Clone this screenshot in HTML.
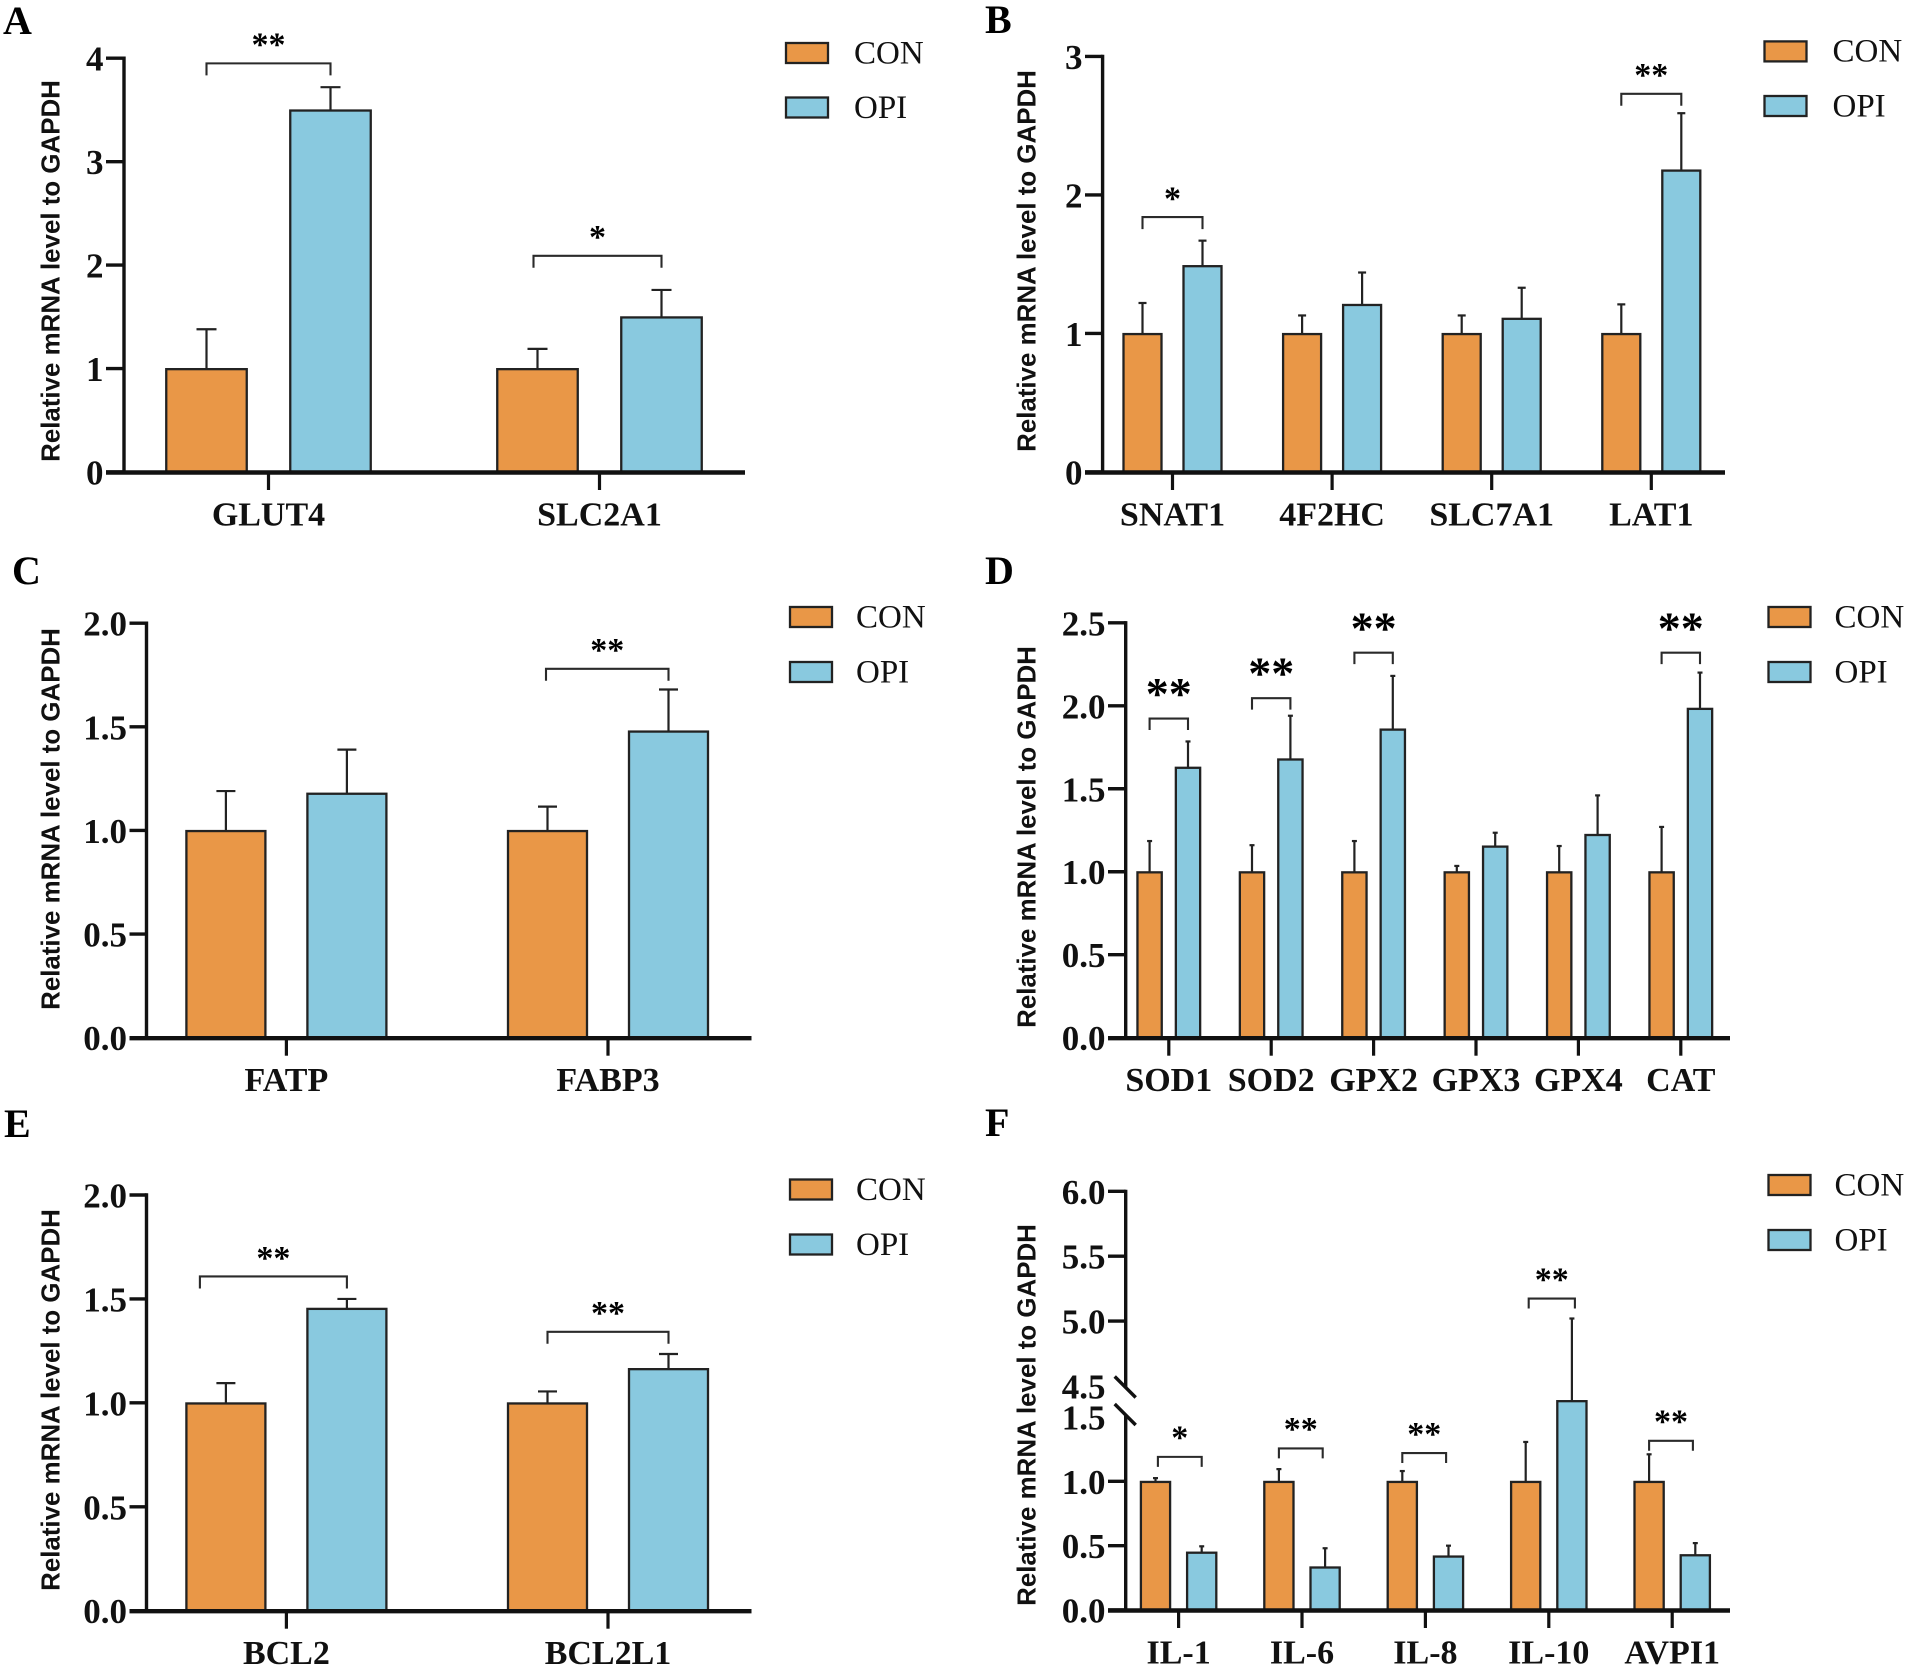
<!DOCTYPE html>
<html lang="en">
<head>
<meta charset="utf-8">
<title>Relative mRNA levels, CON vs OPI</title>
<style>
html,body{margin:0;padding:0;background:#fff;}
svg{display:block;filter:blur(0.35px);}
.tick{font:bold 35px "Liberation Serif",serif;fill:#111;}
.cat{font:bold 34px "Liberation Serif",serif;fill:#111;}
.leg{font:33px "Liberation Serif",serif;fill:#111;}
.ylab{font:bold 25.9px "Liberation Sans",sans-serif;fill:#111;}
.letter{font:bold 40px "Liberation Serif",serif;fill:#000;}
.star{font-family:"Liberation Serif",serif;font-weight:bold;fill:#000;}
</style>
</head>
<body>
<svg id="figure" xmlns="http://www.w3.org/2000/svg" width="1906" height="1668" viewBox="0 0 1906 1668"></svg>
<script>
// Panel A
const aCategories = ['GLUT4', 'SLC2A1'];
const aCon = [1, 1];
const aConErr = [0.38, 0.19];
const aOpi = [3.5, 1.5];
const aOpiErr = [0.22, 0.26];
const aSig = ['**', '*'];
const aBracket = [3.95, 2.09];
const aTicks = [0, 1, 2, 3, 4];
const aTickLabels = ['0', '1', '2', '3', '4'];

// Panel B
const bCategories = ['SNAT1', '4F2HC', 'SLC7A1', 'LAT1'];
const bCon = [1, 1, 1, 1];
const bConErr = [0.22, 0.13, 0.13, 0.21];
const bOpi = [1.49, 1.21, 1.11, 2.18];
const bOpiErr = [0.18, 0.23, 0.22, 0.41];
const bSig = ['*', null, null, '**'];
const bBracket = [1.84, null, null, 2.73];
const bTicks = [0, 1, 2, 3];
const bTickLabels = ['0', '1', '2', '3'];

// Panel C
const cCategories = ['FATP', 'FABP3'];
const cCon = [1, 1];
const cConErr = [0.19, 0.115];
const cOpi = [1.18, 1.48];
const cOpiErr = [0.21, 0.2];
const cSig = [null, '**'];
const cBracket = [null, 1.78];
const cTicks = [0, 0.5, 1, 1.5, 2];
const cTickLabels = ['0.0', '0.5', '1.0', '1.5', '2.0'];

// Panel D
const dCategories = ['SOD1', 'SOD2', 'GPX2', 'GPX3', 'GPX4', 'CAT'];
const dCon = [1, 1, 1, 1, 1, 1];
const dConErr = [0.185, 0.16, 0.185, 0.035, 0.155, 0.27];
const dOpi = [1.63, 1.68, 1.86, 1.155, 1.225, 1.985];
const dOpiErr = [0.155, 0.26, 0.32, 0.08, 0.235, 0.215];
const dSig = ['**', '**', '**', null, null, '**'];
const dBracket = [1.923, 2.046, 2.32, null, null, 2.32];
const dTicks = [0, 0.5, 1, 1.5, 2, 2.5];
const dTickLabels = ['0.0', '0.5', '1.0', '1.5', '2.0', '2.5'];

// Panel E
const eCategories = ['BCL2', 'BCL2L1'];
const eCon = [1, 1];
const eConErr = [0.095, 0.055];
const eOpi = [1.455, 1.165];
const eOpiErr = [0.045, 0.07];
const eSig = ['**', '**'];
const eBracket = [1.608, 1.342];
const eTicks = [0, 0.5, 1, 1.5, 2];
const eTickLabels = ['0.0', '0.5', '1.0', '1.5', '2.0'];

// Panel F (broken axis)
const fCategories = ['IL-1', 'IL-6', 'IL-8', 'IL-10', 'AVPI1'];
const fCon = [1, 1, 1, 1, 1];
const fConErr = [0.025, 0.095, 0.08, 0.306, 0.21];
const fOpi = [0.45, 0.335, 0.42, 3.09, 0.43];
const fOpiErr = [0.045, 0.145, 0.08, 1.93, 0.09];
const fSig = ['*', '**', '**', '**', '**'];
const fBracket = [1.19, 1.256, 1.22, 5.174, 1.315];
const fTicks = [0, 0.5, 1, 1.5, 4.5, 5, 5.5, 6];
const fTickLabels = ['0.0', '0.5', '1.0', '1.5', '4.5', '5.0', '5.5', '6.0'];

const svg = document.getElementById('figure');
const NS = 'http://www.w3.org/2000/svg';
const ORANGE = '#e99747';
const BLUE = '#89c9df';
const INK = '#222';

function mk(tag, attrs, parent, text) {
  const n = document.createElementNS(NS, tag);
  for (const k in attrs) n.setAttribute(k, attrs[k]);
  if (text !== undefined) n.textContent = text;
  parent.appendChild(n);
  return n;
}

function linearY(p) {
  return v => p.y0 - (v - p.min) / (p.max - p.min) * (p.y0 - p.yTop);
}
function brokenY(p) {
  const lowUnit = (p.y0 - p.lowTopY) / p.lowMax;
  const highUnit = (p.highBaseY - p.yTop) / (p.max - p.highMin);
  return v => {
    if (v <= p.lowMax) return p.y0 - v * lowUnit;
    if (v >= p.highMin) return p.highBaseY - (v - p.highMin) * highUnit;
    return p.lowTopY - (v - p.lowMax) / (p.highMin - p.lowMax) * (p.lowTopY - p.highBaseY);
  };
}

function drawPanel(p) {
  const g = mk('g', {}, svg);
  
  
  const y = p.broken ? brokenY(p) : linearY(p);
  const x = i => p.first + i * p.step;

  const letter = mk('text', {x: p.letterX, y: p.letterY, class: 'letter'}, g, p.id.toUpperCase());
  
  

  const title = mk('text', {
    x: p.titleX, y: p.titleY, class: 'ylab', 'text-anchor': 'middle',
    transform: 'rotate(-90 ' + p.titleX + ' ' + p.titleY + ')'
  }, g, 'Relative mRNA level to GAPDH');
  
  

  // bars and error bars
  p.categories.forEach((c, i) => {
    [[p.con, p.conErr, -p.off, ORANGE, 'con'], [p.opi, p.opiErr, p.off, BLUE, 'opi']].forEach(s => {
      const cx = x(i) + s[2];
      const top = y(s[0][i]);
      const errTop = y(s[0][i] + s[1][i]);
      const stem = mk('line', {x1: cx, x2: cx, y1: top, y2: errTop, stroke: INK, 'stroke-width': 2.2}, g);
      
      
      const cap = mk('line', {x1: cx - p.cap / 2, x2: cx + p.cap / 2, y1: errTop, y2: errTop, stroke: INK, 'stroke-width': 2.2}, g);
      
      
      const bar = mk('rect', {x: cx - p.w / 2, y: top + 0.6, width: p.w, height: p.y0 - top - 0.6, fill: s[3], stroke: INK, 'stroke-width': 2.3}, g);
      
      
    });

    const cat = mk('text', {x: x(i), y: p.y0 + 53.5, class: 'cat', 'text-anchor': 'middle'}, g, c);
    
    

    const xt = mk('line', {x1: x(i), x2: x(i), y1: p.y0, y2: p.y0 + 18, stroke: '#111', 'stroke-width': 3.2}, g);
    
    

    // significance bracket
    if (p.bracket[i] !== null) {
      const by = y(p.bracket[i]);
      const l = x(i) - p.off + (p.bracketShift ? p.bracketShift[i] : 0);
      const r = x(i) + p.off + (p.bracketRightShift ? p.bracketRightShift[i] : 0);
      const br = mk('path', {
        d: 'M' + l + ' ' + (by + p.leg) + 'V' + by + 'H' + r + 'V' + (by + p.leg),
        fill: 'none', stroke: '#2a2a2a', 'stroke-width': 2.1
      }, g);
      
      
      const st = mk('text', {
        x: (l + r) / 2, y: by - p.starGap + 0.48 * p.starSize,
        class: 'star', 'text-anchor': 'middle', 'font-size': p.starSize
      }, g, p.sig[i]);
      
      
    }
  });

  // y axis
  if (p.broken) {
    const lower = mk('line', {x1: p.axisX, x2: p.axisX, y1: p.y0, y2: p.lowAxisEnd, stroke: '#111', 'stroke-width': 3.4}, g);
    
    
    const upper = mk('line', {x1: p.axisX, x2: p.axisX, y1: p.highAxisEnd, y2: p.yTop - 1.5, stroke: '#111', 'stroke-width': 3.4}, g);
    
    
    [p.highAxisEnd, p.lowAxisEnd].forEach((b, k) => {
      const s = mk('line', {x1: p.axisX - 11, x2: p.axisX + 10, y1: b - 11.5, y2: b + 9.5, stroke: '#111', 'stroke-width': 3.4}, g);
      
      
    });
  } else {
    const ya = mk('line', {x1: p.axisX, x2: p.axisX, y1: p.y0, y2: p.yTop - 1.7, stroke: '#111', 'stroke-width': 3.4}, g);
    
    
  }
  p.ticks.forEach((t, i) => {
    const ty = y(t);
    const skip = p.broken && (t === p.lowMax || t === p.highMin);
    if (!skip) {
      const tl = mk('line', {x1: p.xLeft, x2: p.axisX, y1: ty, y2: ty, stroke: '#111', 'stroke-width': 3.4}, g);
      
      
    }
    const lab = mk('text', {x: p.xLeft - 2.5, y: ty + 12.5, class: 'tick', 'text-anchor': 'end'}, g, p.tickLabels[i]);
    
    
  });

  // x axis
  const xa = mk('line', {x1: p.xLeft, x2: p.xRight, y1: p.y0 + 0.5, y2: p.y0 + 0.5, stroke: '#111', 'stroke-width': 4.4}, g);
  
  

  // legend
  [['CON', ORANGE, p.legY1], ['OPI', BLUE, p.legY2]].forEach(e => {
    const sw = mk('rect', {x: p.legX, y: e[2] - 20, width: 42, height: 20, fill: e[1], stroke: INK, 'stroke-width': 2.3}, g);
    
    
    const tx = mk('text', {x: p.legX + p.legDx, y: e[2] + 0.3, class: 'leg'}, g, e[0]);
    
    
  });
}

const panels = [
  {id: 'a', categories: aCategories, con: aCon, conErr: aConErr, opi: aOpi, opiErr: aOpiErr, sig: aSig, bracket: aBracket, ticks: aTicks, tickLabels: aTickLabels, bracketShift: [0, -4],
   min: 0, max: 4, y0: 472, yTop: 58.2, axisX: 124, xLeft: 106, xRight: 745, first: 268.5, step: 331, off: 62, w: 80.5, cap: 20, leg: 12, starGap: 24, starSize: 34,
   letterX: 3, letterY: 34, titleX: 59.5, titleY: 271, legX: 786, legDx: 68, legY1: 63, legY2: 117.5},
  {id: 'b', categories: bCategories, con: bCon, conErr: bConErr, opi: bOpi, opiErr: bOpiErr, sig: bSig, bracket: bBracket, ticks: bTicks, tickLabels: bTickLabels,
   min: 0, max: 3, y0: 472, yTop: 56.4, axisX: 1102.6, xLeft: 1085, xRight: 1725, first: 1172.5, step: 159.6, off: 30, w: 38, cap: 8, leg: 12, starGap: 24, starSize: 34,
   letterX: 985, letterY: 33, titleX: 1035.5, titleY: 261, legX: 1764.5, legDx: 68, legY1: 61.4, legY2: 116},
  {id: 'c', categories: cCategories, con: cCon, conErr: cConErr, opi: cOpi, opiErr: cOpiErr, sig: cSig, bracket: cBracket, ticks: cTicks, tickLabels: cTickLabels,
   min: 0, max: 2, y0: 1037.7, yTop: 623.2, axisX: 146.5, xLeft: 129.5, xRight: 751.5, first: 286.4, step: 321.6, off: 60.5, w: 79, cap: 19, leg: 12, starGap: 24, starSize: 34, bracketShift: [0, -1.5],
   letterX: 12, letterY: 584, titleX: 59.5, titleY: 819, legX: 790, legDx: 66, legY1: 627, legY2: 682},
  {id: 'd', categories: dCategories, con: dCon, conErr: dConErr, opi: dOpi, opiErr: dOpiErr, sig: dSig, bracket: dBracket, ticks: dTicks, tickLabels: dTickLabels,
   min: 0, max: 2.5, y0: 1037.7, yTop: 622.8, axisX: 1125.7, xLeft: 1108, xRight: 1730, first: 1168.8, step: 102.4, off: 19.2, w: 24.3, cap: 5, leg: 11.5, starGap: 31.5, starSize: 46,
   letterX: 985, letterY: 584, titleX: 1035.5, titleY: 837, legX: 1768.5, legDx: 66, legY1: 627, legY2: 682},
  {id: 'e', categories: eCategories, con: eCon, conErr: eConErr, opi: eOpi, opiErr: eOpiErr, sig: eSig, bracket: eBracket, ticks: eTicks, tickLabels: eTickLabels,
   min: 0, max: 2, y0: 1610.7, yTop: 1195, axisX: 146.5, xLeft: 129.5, xRight: 751.5, first: 286.4, step: 321.6, off: 60.5, w: 79, cap: 19, leg: 12, starGap: 24, starSize: 34, bracketShift: [-26, 0],
   letterX: 4, letterY: 1137, titleX: 59.5, titleY: 1400, legX: 790, legDx: 66, legY1: 1199.5, legY2: 1254.5},
  {id: 'f', categories: fCategories, con: fCon, conErr: fConErr, opi: fOpi, opiErr: fOpiErr, sig: fSig, bracket: fBracket, ticks: fTicks, tickLabels: fTickLabels,
   bracketShift: [2.4, 0, 0, 3, 0], bracketRightShift: [0, -2.4, -2.4, 3, -2.4],
   broken: true, lowMax: 1.5, highMin: 4.5, max: 6, y0: 1610, yTop: 1191.3, lowTopY: 1417, highBaseY: 1386, lowAxisEnd: 1415.5, highAxisEnd: 1388,
   axisX: 1125.7, xLeft: 1108, xRight: 1730, first: 1178.6, step: 123.4, off: 23.1, w: 29.2, cap: 5, leg: 10, starGap: 24.5, starSize: 34,
   letterX: 985, letterY: 1136, titleX: 1035.5, titleY: 1415, legX: 1768.5, legDx: 66, legY1: 1195, legY2: 1250}
];
panels.forEach(drawPanel);
</script>
</body>
</html>
